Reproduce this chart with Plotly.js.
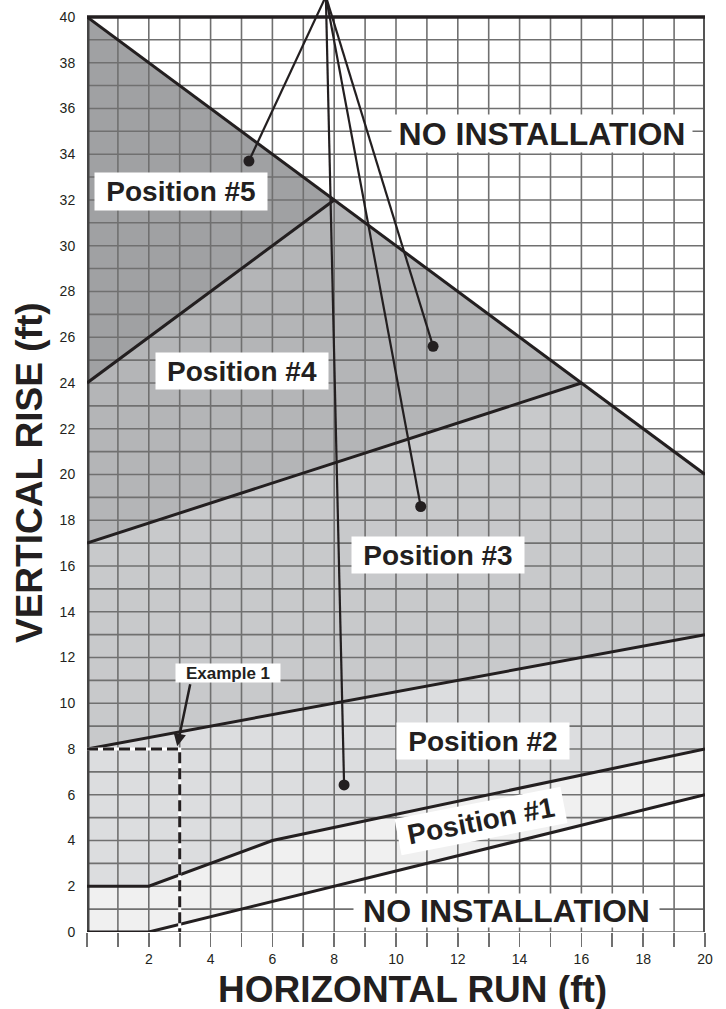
<!DOCTYPE html>
<html>
<head>
<meta charset="utf-8">
<script src="https://cdn.plot.ly/plotly-3.0.1.min.js"></script>
<style>html,body{margin:0;padding:0;background:#fff;}#chart{width:726px;height:1009px;}</style>
</head>
<body>
<div id="chart"></div>
<script>
// ---- data (feet) ----
const xRange = [0, 20];
const yRange = [0, 40];
const xTickVals = [0,1,2,3,4,5,6,7,8,9,10,11,12,13,14,15,16,17,18,19,20];
const xTickText = ['','','2','','4','','6','','8','','10','','12','','14','','16','','18','','20'];
const yTickVals = [0,2,4,6,8,10,12,14,16,18,20,22,24,26,28,30,32,34,36,38,40];
const gridXs = [0,1,2,3,4,5,6,7,8,9,10,11,12,13,14,15,16,17,18,19,20];
const gridYs = [0,1,2,3,4,5,6,7,8,9,10,11,12,13,14,15,16,17,18,19,20,21,22,23,24,25,26,27,28,29,30,31,32,33,34,35,36,37,38,39,40];

// boundary lines between installation positions
const lowerX = [0, 2, 20],        lowerY = [0, 0, 6];          // bottom limit
const pos12X = [0, 2, 6, 20],     pos12Y = [2, 2, 4, 8];       // #1 / #2
const pos23X = [0, 20],           pos23Y = [8, 13];            // #2 / #3
const pos34X = [0, 16],           pos34Y = [17, 24];           // #3 / #4
const pos45X = [0, 8],            pos45Y = [24, 32];           // #4 / #5
const limitX = [0, 8, 16, 20],    limitY = [40, 32, 24, 20];   // upper limit

// Example 1 (3 ft run, 8 ft rise)
const exampleX = [0, 3, 3], exampleY = [8, 8, 0];

// pointer lines (apex above chart, dots inside regions)
const apexX = 7.73, apexY = 40.9;
const dotX = [5.24, 11.2, 10.8, 8.32];
const dotY = [33.7, 25.6, 18.6, 6.43];

const regionNames = ['Position #1','Position #2','Position #3','Position #4','Position #5'];
const regionColors = ['#f0f0f0','#dcdddf','#c8c9cb','#b4b5b7','#a0a1a3'];

// ---- helpers ----
const rev = a => a.slice().reverse();
function limitPart(lo, hi) {
  const xs = [], ys = [];
  for (let i = limitX.length - 1; i >= 0; i--) {
    if (limitX[i] >= lo && limitX[i] <= hi) { xs.push(limitX[i]); ys.push(limitY[i]); }
  }
  return [xs, ys];
}
const [l3x, l3y] = limitPart(16, 20);
const [l4x, l4y] = limitPart(8, 16);
const [l5x, l5y] = limitPart(0, 8);

const polys = [
  [lowerX.concat(rev(pos12X)), lowerY.concat(rev(pos12Y))],
  [pos12X.concat(rev(pos23X)), pos12Y.concat(rev(pos23Y))],
  [pos23X.concat(l3x, rev(pos34X)), pos23Y.concat(l3y, rev(pos34Y))],
  [pos34X.concat(l4x, rev(pos45X)), pos34Y.concat(l4y, rev(pos45Y))],
  [pos45X.concat(l5x), pos45Y.concat(l5y)]
];

const traces = [];
polys.forEach((p, i) => {
  traces.push({x: p[0], y: p[1], type: 'scatter', mode: 'lines', fill: 'toself',
    fillcolor: regionColors[i], line: {width: 0, color: regionColors[i]},
    name: regionNames[i], hoverinfo: 'name', showlegend: false});
});

// grid
const gx = [], gy = [];
gridXs.forEach(v => { gx.push(v, v, null); gy.push(yRange[0], yRange[1], null); });
gridYs.forEach(v => { gx.push(xRange[0], xRange[1], null); gy.push(v, v, null); });
traces.push({x: gx, y: gy, type: 'scatter', mode: 'lines',
  line: {color: '#707070', width: 1.6}, hoverinfo: 'skip', showlegend: false});

// frame
const ink = '#231f20';
traces.push({x: [xRange[0], xRange[0]], y: yRange, mode: 'lines', line: {color: '#444', width: 5}, hoverinfo: 'skip', showlegend: false});
traces.push({x: [xRange[1], xRange[1]], y: yRange, mode: 'lines', line: {color: '#555', width: 4}, hoverinfo: 'skip', showlegend: false});
traces.push({x: xRange, y: [yRange[1], yRange[1]], mode: 'lines', line: {color: ink, width: 3.5}, hoverinfo: 'skip', showlegend: false});

// boundary lines
[[lowerX, lowerY], [pos12X, pos12Y], [pos23X, pos23Y], [pos34X, pos34Y], [pos45X, pos45Y], [limitX, limitY]].forEach(b => {
  traces.push({x: b[0], y: b[1], type: 'scatter', mode: 'lines', line: {color: ink, width: 3},
    hoverinfo: 'skip', showlegend: false});
});

// example dashed line
traces.push({x: exampleX, y: exampleY, mode: 'lines', line: {color: '#ffffff', width: 3}, hoverinfo: 'skip', showlegend: false});
traces.push({x: exampleX, y: exampleY, mode: 'lines', line: {color: ink, width: 3, dash: '11px,5px'}, hoverinfo: 'skip', showlegend: false});

// pointer lines + dots
const px = [], py = [];
dotX.forEach((v, i) => { px.push(apexX, v, null); py.push(apexY, dotY[i], null); });
traces.push({x: px, y: py, mode: 'lines', line: {color: ink, width: 2.2}, hoverinfo: 'skip', showlegend: false});
traces.push({x: dotX, y: dotY, mode: 'markers', marker: {color: ink, size: 11}, hoverinfo: 'skip', showlegend: false});

const FONT = 'Liberation Sans, Arial, Helvetica, sans-serif';
function label(text, x, y, size, w, h, angle) {
  return {text: text, x: x, y: y, xref: 'x', yref: 'y', showarrow: false,
    font: {family: FONT, size: size, color: ink, weight: 'bold'},
    bgcolor: '#ffffff', borderpad: 0, width: w, height: h, textangle: angle || 0,
    xanchor: 'center', yanchor: 'middle'};
}

const annotations = [
  label('NO INSTALLATION', 14.71, 34.9, 32, 300, 37),
  label('Position #5', 3.04, 32.35, 28, 172, 37),
  label('Position #4', 5.0, 24.52, 28, 172, 36),
  label('Position #3', 11.36, 16.48, 28, 172, 36),
  label('Position #2', 12.8, 8.35, 28, 172, 36),
  label('Position #1', 12.75, 4.85, 28, 168, 36, -11),
  label('NO INSTALLATION', 13.56, 0.92, 32, 305, 33),
  label('Example 1', 4.56, 11.3, 17, 104, 18),
  {text: '', x: 2.92, y: 8.12, ax: 3.35, ay: 10.9, xref: 'x', yref: 'y', axref: 'x', ayref: 'y',
   showarrow: true, arrowhead: 2, arrowsize: 1, arrowwidth: 2.5, arrowcolor: ink, standoff: 0, startstandoff: 0},
  {text: 'HORIZONTAL RUN (ft)', xref: 'paper', yref: 'paper', x: 0.5275, y: -0.0622,
   xanchor: 'center', yanchor: 'middle', showarrow: false,
   font: {family: FONT, size: 37, color: ink, weight: 'bold'}},
  {text: 'VERTICAL RISE (ft)', xref: 'paper', yref: 'paper', x: -0.0922, y: 0.4925,
   xanchor: 'center', yanchor: 'middle', showarrow: false, textangle: -90,
   font: {family: FONT, size: 37, color: ink, weight: 'bold'}}
];

const layout = {
  width: 726, height: 1009,
  margin: {l: 87, r: 21, t: 0, b: 77, pad: 0},
  paper_bgcolor: '#ffffff', plot_bgcolor: '#ffffff',
  showlegend: false,
  font: {family: FONT, color: ink},
  xaxis: {range: xRange, showgrid: false, zeroline: false, showline: false,
    tickmode: 'array', tickvals: xTickVals, ticktext: xTickText,
    ticks: 'outside', ticklen: 14, tickwidth: 1.6, tickcolor: '#707070',
    tickfont: {family: FONT, size: 14, color: ink},
    automargin: false, fixedrange: true},
  yaxis: {range: [0, 40.74], showgrid: false, zeroline: false, showline: false,
    tickmode: 'array', tickvals: yTickVals,
    ticks: 'outside', ticklen: 8, tickcolor: 'rgba(0,0,0,0)',
    tickfont: {family: FONT, size: 14, color: ink},
    automargin: false, fixedrange: true},
  annotations: annotations
};

Plotly.newPlot('chart', traces, layout, {displayModeBar: false, staticPlot: true});
</script>
</body>
</html>
